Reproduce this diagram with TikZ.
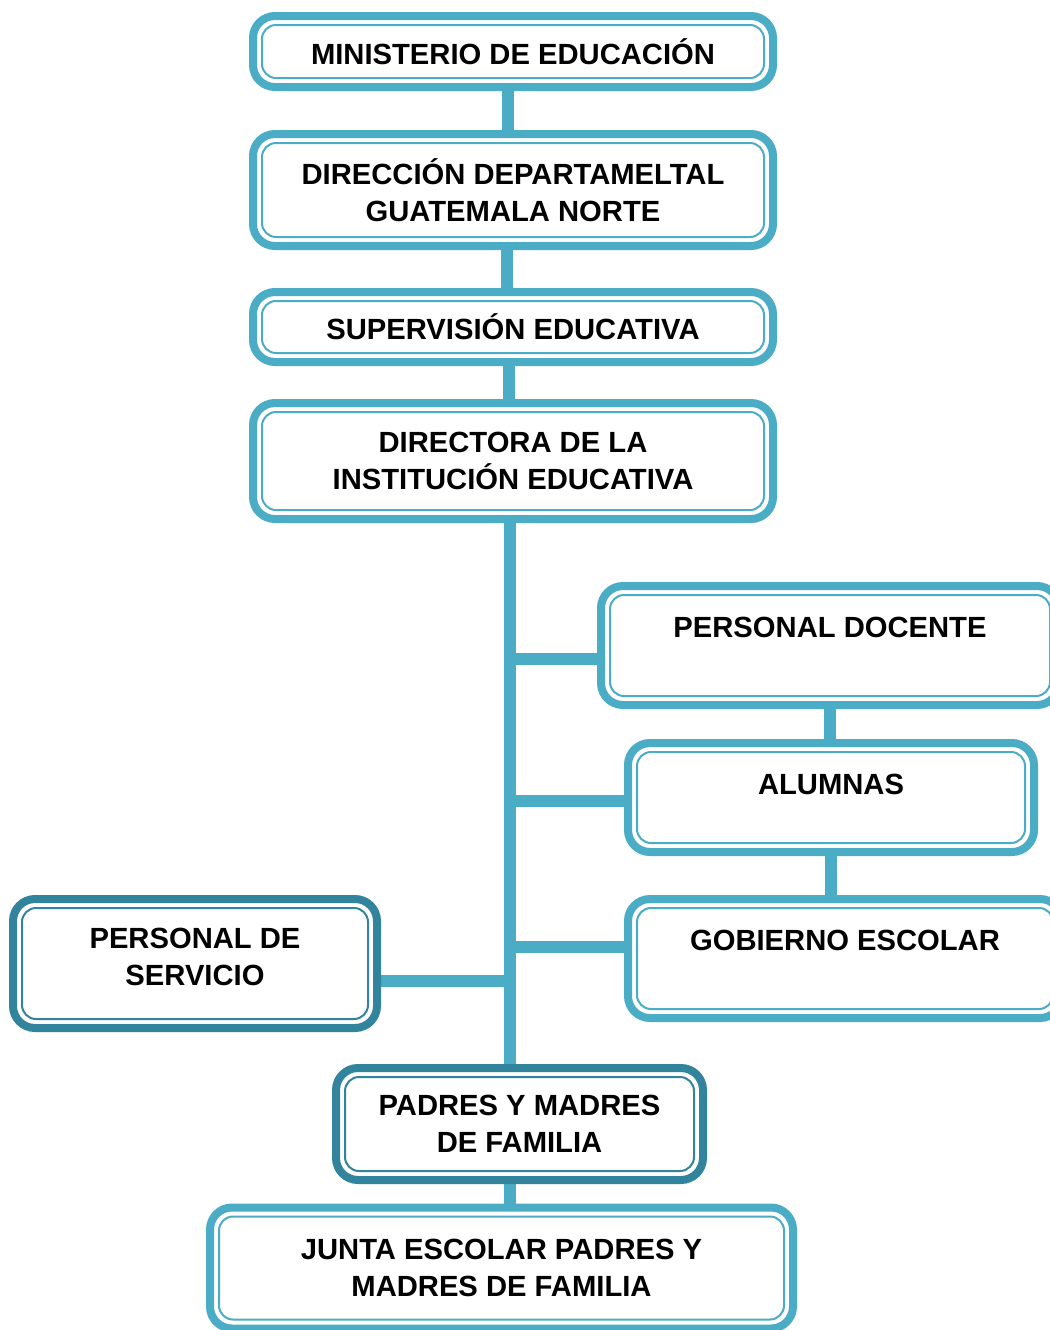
\documentclass[tikz,border=0pt]{standalone}
\usepackage{fontspec}
\setmainfont{Liberation Sans}
\usetikzlibrary{backgrounds}
\definecolor{azul}{HTML}{4BACC6}
\definecolor{azuloscuro}{HTML}{31849B}

\tikzset{
  caja/.style={draw=azul, line width=1pt, fill=white, rounded corners=7pt,
    align=center, inner sep=0pt, font=\fontsize{14.6}{18.5}\selectfont\bfseries},
  marco/.style={draw=azul, fill=white, line width=4pt, rounded corners=11pt},
  linea/.style={draw=azul, line width=6pt},
}

\begin{document}
\begin{tikzpicture}[x=0.5pt, y=-0.5pt]
  \clip (0,0) rectangle (1050,1330);

  \node[caja, minimum width=251pt, minimum height=26.5pt] (min) at (513,51.5) {MINISTERIO DE EDUCACIÓN};
  \node[caja, minimum width=251pt, minimum height=47pt] (dir) at (513,190) {DIRECCIÓN DEPARTAMELTAL\\GUATEMALA NORTE};
  \node[caja, minimum width=251pt, minimum height=26pt] (sup) at (513,327) {SUPERVISIÓN EDUCATIVA};
  \node[caja, minimum width=251pt, minimum height=49pt] (dirc) at (513,461) {DIRECTORA DE LA\\INSTITUCIÓN EDUCATIVA};
  \node[caja, minimum width=220pt, minimum height=50.5pt] (doc) at (830,645.5) {PERSONAL DOCENTE\\~};
  \node[caja, minimum width=194pt, minimum height=45.5pt] (alu) at (831,797.5) {ALUMNAS\\[-5pt]~};
  \node[caja, minimum width=208pt, minimum height=50.5pt] (gob) at (845,958.5) {GOBIERNO ESCOLAR\\~};
  \node[caja, draw=azuloscuro, minimum width=173pt, minimum height=55.5pt] (serv) at (195,963.5) {PERSONAL DE\\SERVICIO\\[-12pt]~};
  \node[caja, draw=azuloscuro, minimum width=174.5pt, minimum height=47pt] (pad) at (519.5,1124) {PADRES Y MADRES\\DE FAMILIA};
  \node[caja, minimum width=282.5pt, minimum height=51.5pt] (jun) at (501.5,1268) {JUNTA ESCOLAR PADRES Y\\MADRES DE FAMILIA};

  \coordinate (tronco) at ([xshift=-1.5pt]dirc.south);

  \begin{scope}[on background layer]
    \draw[linea] ([xshift=-2.5pt]min.south) -- ([xshift=-2.5pt]dir.north);
    \draw[linea] ([xshift=-3pt]dir.south) -- ([xshift=-3pt]sup.north);
    \draw[linea] ([xshift=-2pt]sup.south) -- ([xshift=-2pt]dirc.north);
    \draw[linea] (tronco) -- (tronco |- pad.north);
    \draw[linea] (doc.west) ++(0,13.5) -| (tronco);
    \draw[linea] (alu.west) ++(0,3.5) -| (tronco);
    \draw[linea] (gob.west) ++(0,-11.5) -| (tronco);
    \draw[linea] (serv.east) ++(0,17.5) -| (tronco);
    \draw[linea] (doc.south) -- (doc.south |- alu.north);
    \draw[linea] (alu.south) -- (alu.south |- gob.north);
    \draw[linea] (tronco |- pad.south) -- (tronco |- jun.north);

    % marcos gruesos
    \foreach \n in {min,dir,sup,dirc,doc,alu,gob,jun}
      \draw[marco] ([shift={(-4pt,-4pt)}]\n.south west) rectangle ([shift={(4pt,4pt)}]\n.north east);
    \foreach \n in {serv,pad}
      \draw[marco, draw=azuloscuro] ([shift={(-4pt,-4pt)}]\n.south west) rectangle ([shift={(4pt,4pt)}]\n.north east);
  \end{scope}
\end{tikzpicture}
\end{document}
